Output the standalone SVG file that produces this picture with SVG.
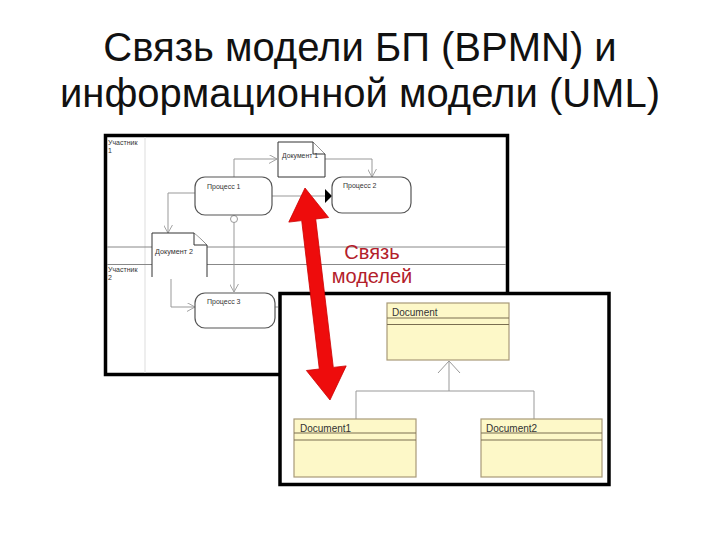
<svg xmlns="http://www.w3.org/2000/svg" width="720" height="540" viewBox="0 0 720 540">
<style>
.title{font-family:"Liberation Sans",Arial,sans-serif;font-size:40px;fill:#111;text-anchor:middle}
.small{font-family:"Liberation Sans",Arial,sans-serif;font-size:7px;fill:#333}
.lane{font-family:"Liberation Sans",Arial,sans-serif;font-size:7px;fill:#333}
.proc{fill:#fff;stroke:#555;stroke-width:1.2}
.doc{fill:#fff;stroke:#333;stroke-width:1}
.conn{fill:none;stroke:#999;stroke-width:1}
.cls{fill:#fdf8c8;stroke:#a89a78;stroke-width:1.2}
.clsline{stroke:#7a6e50;stroke-width:1}
.clsname{font-family:"Liberation Sans",Arial,sans-serif;font-size:10px;fill:#333}
.red{font-family:"Liberation Sans",Arial,sans-serif;font-size:20px;fill:#b3202a;text-anchor:middle}
</style>
<defs>
<marker id="vopen" viewBox="0 0 10 10" refX="9" refY="5" markerWidth="9" markerHeight="9" markerUnits="userSpaceOnUse" orient="auto">
<path d="M0,0 L9,5 L0,10" fill="none" stroke="#999" stroke-width="1"/>
</marker>
</defs>
<rect width="720" height="540" fill="#fff"/>
<g id="title">
<text class="title" x="360" y="61">Связь модели БП (BPMN) и</text>
<text class="title" x="360" y="107">информационной модели (UML)</text>
</g>
<g id="bpmn">
<rect x="105.5" y="135.5" width="402" height="239" fill="#fff" stroke="#000" stroke-width="3.5"/>
<line x1="145" y1="137" x2="145" y2="373" stroke="#ddd" stroke-width="1"/>
<line x1="107" y1="247" x2="506" y2="247" stroke="#888" stroke-width="1"/>
<line x1="107" y1="264.5" x2="506" y2="264.5" stroke="#888" stroke-width="1"/>
<text class="lane" x="108" y="145">Участник</text>
<text class="lane" x="108" y="153">1</text>
<text class="lane" x="108" y="272">Участник</text>
<text class="lane" x="108" y="280">2</text>
</g>
<g id="uml">
<rect x="280" y="293.5" width="329" height="191" fill="#fff" stroke="#000" stroke-width="3.5"/>
</g>
<g id="connectors">
<path class="conn" d="M234,177 V159 H277" marker-end="url(#vopen)"/>
<path class="conn" d="M325,159 H372 V177" marker-end="url(#vopen)"/>
<path class="conn" d="M272,196 H325"/>
<polygon points="325,189 332,196 325,203" fill="#000"/>
<path class="conn" d="M195,193 H168 V233" marker-end="url(#vopen)"/>
<circle cx="234" cy="219" r="3.5" fill="#fff" stroke="#999" stroke-width="1"/>
<path class="conn" d="M234,222.5 V292" marker-end="url(#vopen)"/>
<path class="conn" d="M171,279 V307 H195" marker-end="url(#vopen)"/>
<path class="conn" d="M275,307 H278"/>
<path class="conn" d="M449,362 V391 M356,391 H534 M356,391 V419 M534,391 V419"/>
<path d="M438,373 L449,361 L460,373" fill="none" stroke="#999" stroke-width="1"/>
</g>
<g id="doc1">
<path class="doc" d="M278,142 H313 L325,154 V177 H278 Z"/>
<path class="doc" d="M313,142 V154 H325" fill="none"/>
<text class="small" x="282" y="158" textLength="36" lengthAdjust="spacingAndGlyphs">Документ 1</text>
</g>
<g id="proc1">
<rect class="proc" x="195" y="177" width="77" height="38" rx="10"/>
<text class="small" x="207" y="189">Процесс 1</text>
</g>
<g id="proc2">
<rect class="proc" x="332" y="177" width="79" height="36" rx="10"/>
<text class="small" x="343" y="188">Процесс 2</text>
</g>
<g id="doc2">
<path class="doc" d="M152,277 V233 H194 L207,245 V277" fill="#fff"/>
<path class="doc" d="M194,233 L194,245 H207" fill="none"/>
<text class="small" x="155" y="254" textLength="38" lengthAdjust="spacingAndGlyphs">Документ 2</text>
</g>
<g id="proc3">
<rect class="proc" x="195" y="293" width="80" height="35" rx="10"/>
<text class="small" x="207" y="304">Процесс 3</text>
</g>
<g id="class-document">
<rect class="cls" x="387" y="303" width="122" height="57"/>
<line class="clsline" x1="387" y1="318" x2="509" y2="318"/>
<line class="clsline" x1="387" y1="324.5" x2="509" y2="324.5"/>
<text class="clsname" x="392" y="316">Document</text>
</g>
<g id="class-document1">
<rect class="cls" x="294" y="419" width="122" height="58"/>
<line class="clsline" x1="294" y1="433" x2="416" y2="433"/>
<line class="clsline" x1="294" y1="440" x2="416" y2="440"/>
<text class="clsname" x="300" y="432">Document1</text>
</g>
<g id="class-document2">
<rect class="cls" x="481" y="419" width="121" height="58"/>
<line class="clsline" x1="481" y1="433" x2="602" y2="433"/>
<line class="clsline" x1="481" y1="440" x2="602" y2="440"/>
<text class="clsname" x="486" y="432">Document2</text>
</g>
<g id="link">
<polygon points="305,188 328.6,217.5 315.7,219 333.3,367.4 346.2,365.9 330,400 306.4,370.5 319.3,369 301.7,220.6 288.8,222.1" fill="#ee0c0c" stroke="#c00" stroke-width="0.8"/>
<text class="red" x="372" y="259">Связь</text>
<text class="red" x="372" y="283">моделей</text>
</g>
</svg>
